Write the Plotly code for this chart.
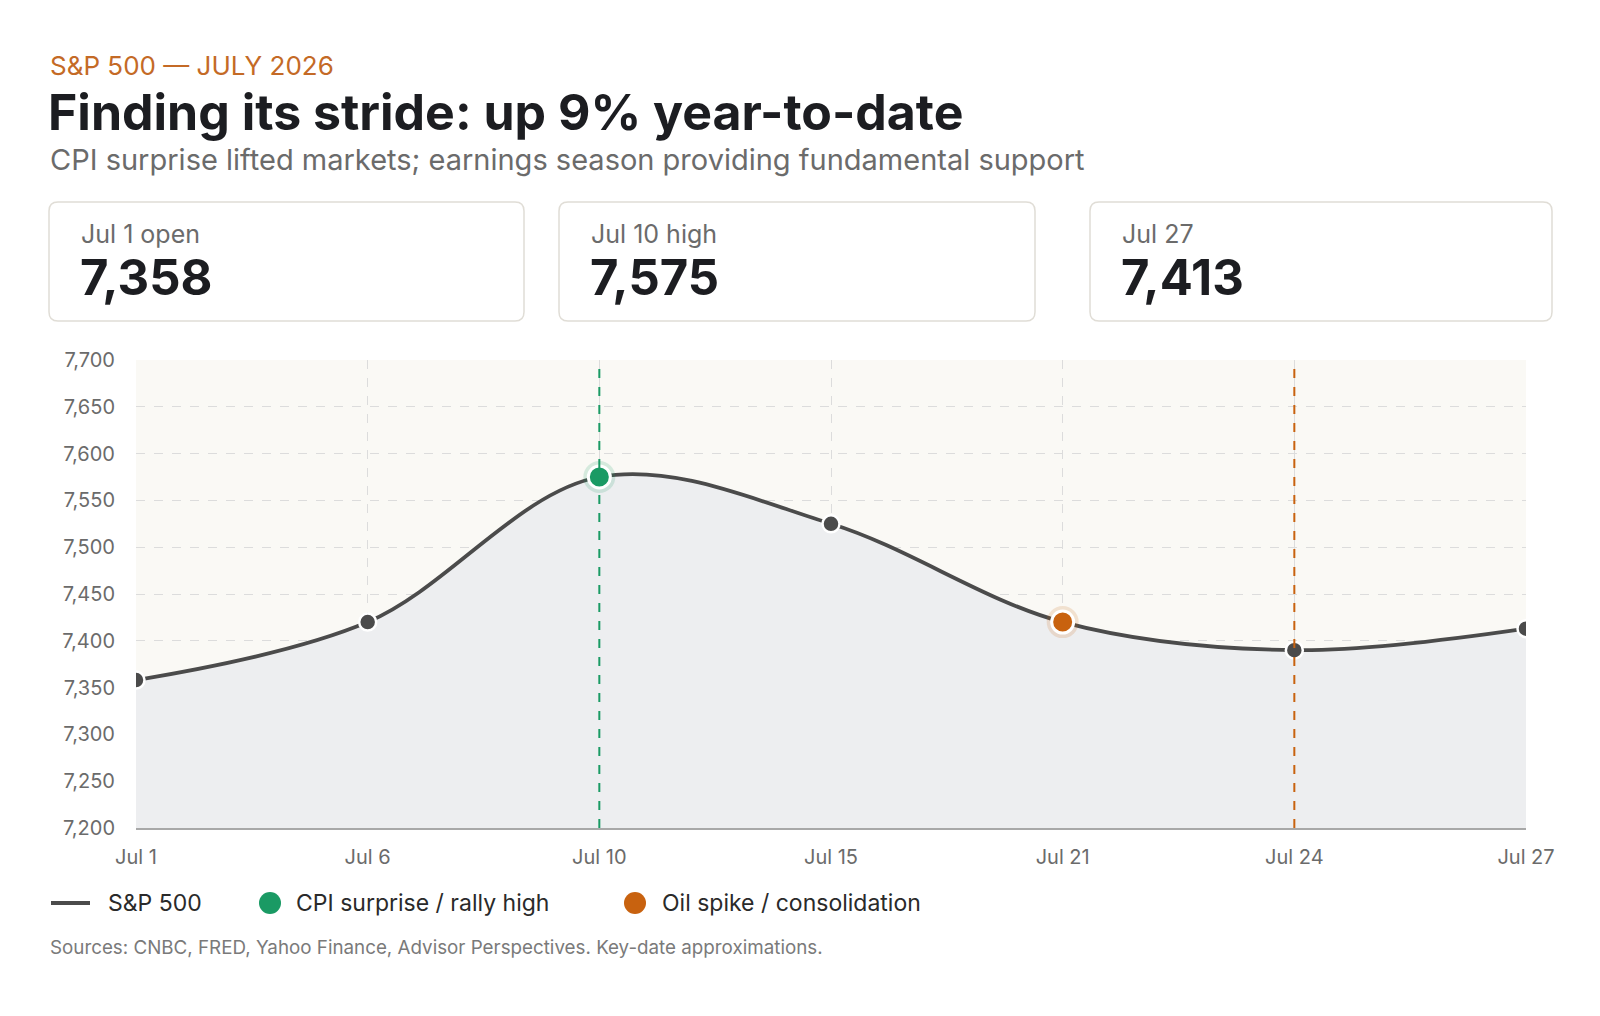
import plotly.graph_objects as go

# %% Data
dates = ['Jul 1', 'Jul 6', 'Jul 10', 'Jul 15', 'Jul 21', 'Jul 24', 'Jul 27']
closes = [7358, 7420, 7575, 7525, 7420, 7390, 7413]

cpi_date = 'Jul 10'   # CPI surprise / rally high
oil_date = 'Jul 21'   # Oil spike / consolidation
vline_dates = ['Jul 10', 'Jul 24']

card_labels = ['Jul 1 open', 'Jul 10 high', 'Jul 27']
card_values = ['7,358', '7,575', '7,413']

legend_labels = ['S&P 500', 'CPI surprise / rally high', 'Oil spike / consolidation']

# %% Styling
OFF = 8                 # page body margin
W, H = 1584, 1000
PL, PR, PT, PB = 136, 1526, 360, 828  # plot area in page pixels
FONT = 'Inter, Lato, sans-serif'
DARK = '#1c1d21'
GREY_TXT = '#6b6b6b'
LINE = '#4b4b4b'
GREEN = '#1a9a64'
ORANGE = '#c8620f'


def px(x):
    return (x - PL) / (PR - PL)


def py(y):
    return (PB - y) / (PB - PT)


fig = go.Figure()

# Area + line
fig.add_trace(go.Scatter(
    x=dates, y=closes, mode='lines',
    line=dict(color=LINE, width=3.8, shape='spline', smoothing=1),
    fill='tozeroy', fillcolor='#edeef0',
    showlegend=False, hoverinfo='skip',
))

# Regular points
plain = [(d, v) for d, v in zip(dates, closes) if d not in (cpi_date, oil_date)]
fig.add_trace(go.Scatter(
    x=[p[0] for p in plain], y=[p[1] for p in plain], mode='markers',
    marker=dict(size=17, color=LINE, line=dict(color='white', width=2.5)),
    showlegend=False,
))

# Highlighted points with halo
for d, col, halo in [(cpi_date, GREEN, 'rgba(26,154,100,0.16)'),
                     (oil_date, ORANGE, 'rgba(200,98,15,0.16)')]:
    v = closes[dates.index(d)]
    fig.add_trace(go.Scatter(
        x=[d], y=[v], mode='markers',
        marker=dict(size=32, color=halo, line=dict(width=0)),
        showlegend=False, hoverinfo='skip',
    ))
    fig.add_trace(go.Scatter(
        x=[d], y=[v], mode='markers',
        marker=dict(size=22, color=col, line=dict(color='white', width=3)),
        showlegend=False,
    ))

# Event lines
for d, col in zip(vline_dates, [GREEN, ORANGE]):
    fig.add_shape(type='line', xref='x', yref='paper',
                  x0=dates.index(d), x1=dates.index(d), y0=0, y1=1,
                  line=dict(color=col, width=2, dash='dash'), layer='above')

# %% Header text
ann = []
ann.append(dict(text='S&P 500 — JULY 2026', x=px(48), y=py(65),
                font=dict(size=26, color='#c46a26')))
ann.append(dict(text='<b>Finding its stride: up 9% year-to-date</b>', x=px(46), y=py(112),
                font=dict(size=50, color=DARK)))
ann.append(dict(text='CPI surprise lifted markets; earnings season providing fundamental support',
                x=px(48), y=py(160), font=dict(size=29, color=GREY_TXT)))

# %% Cards
cards_x = [(49, 524), (559, 1035), (1090, 1552)]
ct, cb, r = 202, 321, 9
for (x0, x1), lab, val in zip(cards_x, card_labels, card_values):
    a, b, c, d = px(x0), px(x1), py(ct), py(cb)
    rx, ry = r / (PR - PL), r / (PB - PT)
    path = (f'M {a + rx},{c} L {b - rx},{c} Q {b},{c} {b},{c - ry} '
            f'L {b},{d + ry} Q {b},{d} {b - rx},{d} L {a + rx},{d} '
            f'Q {a},{d} {a},{d + ry} L {a},{c - ry} Q {a},{c} {a + rx},{c} Z')
    fig.add_shape(type='path', path=path, xref='paper', yref='paper',
                  line=dict(color='#e0ddd6', width=1.5), fillcolor='white')
    ann.append(dict(text=lab, x=px(x0 + 30), y=py(234),
                    font=dict(size=25, color=GREY_TXT)))
    ann.append(dict(text=f'<b>{val}</b>', x=px(x0 + 29), y=py(277),
                    font=dict(size=49, color=DARK)))

# %% Legend (manual)
ly = py(903)
fig.add_shape(type='line', xref='paper', yref='paper', x0=px(51), x1=px(90), y0=ly, y1=ly,
              line=dict(color=LINE, width=4))
ann.append(dict(text=legend_labels[0], x=px(106), y=ly, font=dict(size=23, color='#2a2a2a')))
for cx, col, lab, tx in [(270, GREEN, legend_labels[1], 294), (635, ORANGE, legend_labels[2], 660)]:
    rr = 11
    fig.add_shape(type='circle', xref='paper', yref='paper',
                  x0=px(cx - rr), x1=px(cx + rr), y0=py(903 + rr), y1=py(903 - rr),
                  fillcolor=col, line=dict(width=0))
    ann.append(dict(text=lab, x=px(tx), y=ly, font=dict(size=23, color='#2a2a2a')))

ann.append(dict(text='Sources: CNBC, FRED, Yahoo Finance, Advisor Perspectives. Key-date approximations.',
                x=px(48), y=py(947), font=dict(size=18.8, color='#7a7a7a')))

for a in ann:
    a.update(xref='paper', yref='paper', xanchor='left', yanchor='middle',
             showarrow=False)
    a['font'].setdefault('family', FONT)
fig.update_layout(annotations=ann)

# %% Layout
fig.update_layout(
    width=W, height=H,
    margin=dict(l=PL - OFF, r=W - (PR - OFF), t=PT - OFF, b=H - (PB - OFF), pad=0),
    paper_bgcolor='white',
    plot_bgcolor='#faf9f5',
    font=dict(family=FONT, color=GREY_TXT),
    showlegend=False,
    xaxis=dict(
        type='category', range=[0, len(dates) - 1],
        showgrid=True, gridcolor='#dcdcdc', griddash='dash', gridwidth=1,
        showline=True, linecolor='#a8a8a8', linewidth=2,
        ticks='', ticklabelstandoff=10,
        tickfont=dict(size=20, color=GREY_TXT),
        zeroline=False,
    ),
    yaxis=dict(
        range=[7200, 7700], dtick=50, tickformat=',',
        showgrid=True, gridcolor='#dcdcdc', griddash='dash', gridwidth=1,
        showline=False, ticks='', ticklabelstandoff=20,
        tickfont=dict(size=20, color=GREY_TXT),
        zeroline=False,
    ),
)

fig.write_html('out.html')
